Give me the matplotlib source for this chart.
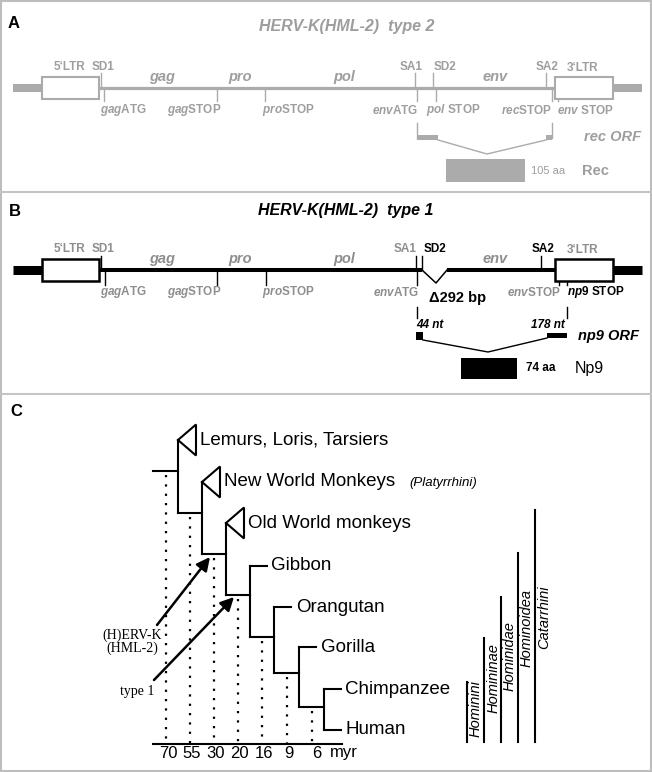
import matplotlib.pyplot as plt
from matplotlib.patches import Rectangle, Polygon

plt.rcParams['font.family'] = ['Liberation Sans', 'DejaVu Sans']
plt.rcParams['mathtext.fontset'] = 'custom'
plt.rcParams['mathtext.it'] = 'Liberation Sans:italic:bold'
plt.rcParams['mathtext.rm'] = 'Liberation Sans:bold'

# ---- genome maps (A: type 2, B: type 1), x in pixels ----
ltr5 = (42, 99)
ltr3 = (555, 613)
flank = (13, 642)
genes = ['gag', 'pro', 'pol', 'env']
gene_x = [162, 240, 344, 495]

sites_a = ['SD1', 'SA1', 'SD2', 'SA2']
site_tick_a = [101, 415, 433, 546]
site_lab_a = [103, 411, 445, 547]
sites_b = ['SD1', 'SA1', 'SD2', 'SA2']
site_tick_b = [101, 416, 422, 541]
site_lab_b = [103, 405, 435, 543]
site_dark_b = [False, False, True, True]

marks_a = [r'$\mathit{gag}$ATG', r'$\mathit{gag}$STOP', r'$\mathit{pro}$STOP', r'$\mathit{env}$ATG',
           r'$\mathit{pol}$ STOP', r'$\mathit{rec}$STOP', r'$\mathit{env}$ STOP']
mark_tick_a = [104, 217, 265, 417, 436, 552, 558]
mark_lab_a = [123, 194, 288, 395, 453, 527, 586]
marks_b = [r'$\mathit{gag}$ATG', r'$\mathit{gag}$STOP', r'$\mathit{pro}$STOP', r'$\mathit{env}$ATG',
           r'$\mathit{env}$STOP', r'$\mathit{np9}$ STOP']
mark_tick_b = [105, 217, 266, 417, 559, 567]
mark_lab_b = [123, 194, 288, 396, 534, 596]
mark_dark_b = [False, False, False, False, False, True]

deletion_b = (422, 436, 447)       # start, apex, end of the 292 bp deletion
rec_exons = [(417, 438), (546, 552)]
np9_exons = [(416, 423), (547, 567)]
rec_prot = (446, 525)
np9_prot = (461, 517)

# ---- phylogeny (C) ----
taxa = ['Lemurs, Loris, Tarsiers', 'New World Monkeys', 'Old World monkeys', 'Gibbon',
        'Orangutan', 'Gorilla', 'Chimpanzee', 'Human']
collapsed = [True, True, True, False, False, False, False, False]
leaf_y = [440, 482, 523, 566, 607, 647, 689, 730]
node_x = [178, 202, 226, 249.5, 274.4, 298.5, 323.5]
node_y = [471, 513, 554, 595, 637, 673, 707]
ages = ['70', '55', '30', '20', '16', '9', '6']
clades = ['Hominini', 'Homininae', 'Hominidae', 'Hominoidea', 'Catarrhini']
clade_x = [466.5, 484.4, 501, 517.7, 535]
clade_top = [682, 638, 597, 553, 510]
clade_lab_y = [709, 678, 656, 628, 617]

GRAY = '#ababab'
TGRAY = '#9e9e9e'
BGRAY = '#8e8e8e'

fig = plt.figure(figsize=(6.52, 7.72), dpi=100)
ax = fig.add_axes([0, 0, 1, 1])
ax.set_xlim(0, 652)
ax.set_ylim(772, 0)
ax.axis('off')

# frame and panel separators
ax.add_patch(Rectangle((1, 1), 650, 770, fill=False, ec='#bdbdbd', lw=1.5))
for ys in [192, 394]:
    ax.plot([1, 651], [ys, ys], color='#c4c4c4', lw=1.5)


def genome(y, col, tcol, lw_line, lw_box, lw_end):
    ax.plot([flank[0], ltr5[0]], [y, y], color=col, lw=lw_end, solid_capstyle='butt')
    ax.plot([ltr3[1], flank[1]], [y, y], color=col, lw=lw_end, solid_capstyle='butt')
    for x0, x1 in (ltr5, ltr3):
        ax.add_patch(Rectangle((x0, y - 11), x1 - x0, 22, fc='white', ec=col, lw=lw_box, zorder=3))
    ax.text(70, y - 21, '5‘LTR', color=tcol, fontsize=8.5, fontweight='bold', ha='center', va='center')
    ax.text(583, y - 20, '3‘LTR', color=tcol, fontsize=8.5, fontweight='bold', ha='center', va='center')
    for g, gx in zip(genes, gene_x):
        ax.text(gx, y - 11, g, color=tcol, fontsize=10.5, fontweight='bold', fontstyle='italic',
                ha='center', va='center')


# ---------------- panel A ----------------
ya = 88
ax.text(14, 23, 'A', fontsize=12, fontweight='bold', ha='center', va='center')
ax.text(347, 27, 'HERV-K(HML-2)  type 2', color=TGRAY, fontsize=11.5, fontweight='bold',
        fontstyle='italic', ha='center', va='center')
ax.plot([ltr5[1], ltr3[0]], [ya, ya], color=GRAY, lw=2.3, solid_capstyle='butt')
genome(ya, GRAY, TGRAY, 2.3, 1.5, 5.8)
for s, tx, lx in zip(sites_a, site_tick_a, site_lab_a):
    ax.plot([tx, tx], [ya - 15, ya], color=GRAY, lw=1)
    ax.text(lx, ya - 21, s, color=TGRAY, fontsize=8.5, fontweight='bold', ha='center', va='center')
for m, tx, lx in zip(marks_a, mark_tick_a, mark_lab_a):
    y0 = ya + 11 if tx > ltr3[0] else ya
    ax.plot([tx, tx], [y0, ya + 13], color=GRAY, lw=1)
    ax.text(lx, ya + 22, m, color=TGRAY, fontsize=8.5, fontweight='bold', ha='center', va='center')

# rec ORF
for x in (rec_exons[0][0], rec_exons[1][1]):
    ax.plot([x, x], [123, 138], color=GRAY, lw=1)
for x0, x1 in rec_exons:
    ax.add_patch(Rectangle((x0, 135), x1 - x0, 5, fc=GRAY, ec='none'))
ax.plot([rec_exons[0][1], 487, rec_exons[1][0]], [140, 154, 140], color=GRAY, lw=1)
ax.text(612, 137, 'rec ORF', color=TGRAY, fontsize=10.5, fontweight='bold', fontstyle='italic',
        ha='center', va='center')
ax.add_patch(Rectangle((rec_prot[0], 159), rec_prot[1] - rec_prot[0], 23, fc=GRAY, ec='none'))
ax.text(548, 171, '105 aa', color=TGRAY, fontsize=8, ha='center', va='center')
ax.text(595, 171, 'Rec', color=TGRAY, fontsize=10.5, fontweight='bold', ha='center', va='center')

# ---------------- panel B ----------------
yb = 270
ax.text(15, 212, 'B', fontsize=12, fontweight='bold', ha='center', va='center')
ax.text(346, 210, 'HERV-K(HML-2)  type 1', color='k', fontsize=11.5, fontweight='bold',
        fontstyle='italic', ha='center', va='center')
ax.plot([ltr5[1], deletion_b[0]], [yb, yb], color='k', lw=2.9, solid_capstyle='butt')
ax.plot([deletion_b[2], ltr3[0]], [yb, yb], color='k', lw=2.9, solid_capstyle='butt')
ax.plot(deletion_b, [yb, yb + 13, yb], color='k', lw=1.1)
genome(yb, 'k', BGRAY, 2.9, 1.8, 6.5)
for s, tx, lx, dk in zip(sites_b, site_tick_b, site_lab_b, site_dark_b):
    ax.plot([tx, tx], [yb - 14, yb], color='k', lw=1)
    ax.text(lx, yb - 21, s, color='k' if dk else BGRAY, fontsize=8.5, fontweight='bold',
            ha='center', va='center')
for m, tx, lx, dk in zip(marks_b, mark_tick_b, mark_lab_b, mark_dark_b):
    y0 = yb + 11 if tx > ltr3[0] else yb
    ax.plot([tx, tx], [y0, yb + 15], color='k', lw=1)
    ax.text(lx, yb + 22, m, color='k' if dk else BGRAY, fontsize=8.5, fontweight='bold',
            ha='center', va='center')
ax.text(458, 298, 'Δ292 bp', color='k', fontsize=10.5, fontweight='bold', ha='center', va='center')

# np9 ORF
for x in (np9_exons[0][0] + 1, np9_exons[1][1]):
    ax.plot([x, x], [307, 318], color='k', lw=1)
ax.text(429.5, 325, '44 nt', fontsize=8.5, fontweight='bold', fontstyle='italic', ha='center', va='center')
ax.text(547.5, 325, '178 nt', fontsize=8.5, fontweight='bold', fontstyle='italic', ha='center', va='center')
ax.add_patch(Rectangle((np9_exons[0][0], 332), np9_exons[0][1] - np9_exons[0][0], 8, fc='k', ec='none'))
ax.add_patch(Rectangle((np9_exons[1][0], 333), np9_exons[1][1] - np9_exons[1][0], 5, fc='k', ec='none'))
ax.plot([np9_exons[0][1], 488, np9_exons[1][0]], [340, 352, 338], color='k', lw=1)
ax.text(608.5, 336, 'np9 ORF', fontsize=10.5, fontweight='bold', fontstyle='italic', ha='center', va='center')
ax.add_patch(Rectangle((np9_prot[0], 358), np9_prot[1] - np9_prot[0], 21, fc='k', ec='none'))
ax.text(540.5, 368, '74 aa', fontsize=8.5, fontweight='bold', ha='center', va='center')
ax.text(589, 368, 'Np9', fontsize=11.5, ha='center', va='center')

# ---------------- panel C ----------------
ax.text(16, 412, 'C', fontsize=12, fontweight='bold', ha='center', va='center')
LW = 1.5
ax.plot([153, node_x[0]], [node_y[0], node_y[0]], color='k', lw=LW)
for i, nx in enumerate(node_x):
    bottom = node_y[i + 1] if i + 1 < len(node_x) else leaf_y[-1]
    ax.plot([nx, nx], [leaf_y[i], bottom], color='k', lw=LW)
    if i + 1 < len(node_x):
        ax.plot([nx, node_x[i + 1]], [node_y[i + 1], node_y[i + 1]], color='k', lw=LW)
leaf_base = node_x + [node_x[-1]]
for name, ly, bx, col in zip(taxa, leaf_y, leaf_base, collapsed):
    if col:
        ax.add_patch(Polygon([(bx, ly), (bx + 18, ly - 15.5), (bx + 18, ly + 15.5)], closed=True,
                             fill=False, ec='k', lw=LW))
    else:
        ax.plot([bx, bx + 17], [ly, ly], color='k', lw=LW)
    ax.text(bx + 22, ly, name, fontsize=13.5, ha='left', va='center')
ax.text(409, leaf_y[1] + 1, '(Platyrrhini)', fontsize=9.5, fontstyle='italic', ha='left', va='center')

# time axis with dotted divergence lines
axis_y = 744
ax.plot([153, 342], [axis_y, axis_y], color='k', lw=LW)
for i, a in enumerate(ages):
    dx = node_x[i] - 12
    ax.plot([dx, dx], [node_y[i] + 4, axis_y], color='k', lw=1.6, linestyle=(0, (1, 3.2)))
    ax.text(dx + 2 + (3 if i == 6 else 0), 753, a, fontsize=12, ha='center', va='center')
ax.text(344, 753, 'myr', fontsize=12, ha='center', va='center')

# insertion arrows
arr = dict(arrowstyle='-|>', lw=1.8, color='k', mutation_scale=20, shrinkA=0, shrinkB=0)
ax.annotate('', xy=(210, 557), xytext=(157, 625), arrowprops=arr)
ax.annotate('', xy=(234, 597), xytext=(154, 680), arrowprops=arr)
ax.text(132, 642, '(H)ERV-K\n(HML-2)', family='Liberation Serif', fontsize=10, ha='center',
        va='center', linespacing=0.95)
ax.text(137, 692, 'type 1', family='Liberation Serif', fontsize=10, ha='center', va='center')

# clade bars
for name, cx, top, ly in zip(clades, clade_x, clade_top, clade_lab_y):
    ax.plot([cx, cx], [top, 742], color='k', lw=LW)
    ax.text(cx + 9, ly, name, fontsize=10.5, fontstyle='italic', rotation=90, ha='center', va='center')

fig.savefig('out.png', dpi=100)
